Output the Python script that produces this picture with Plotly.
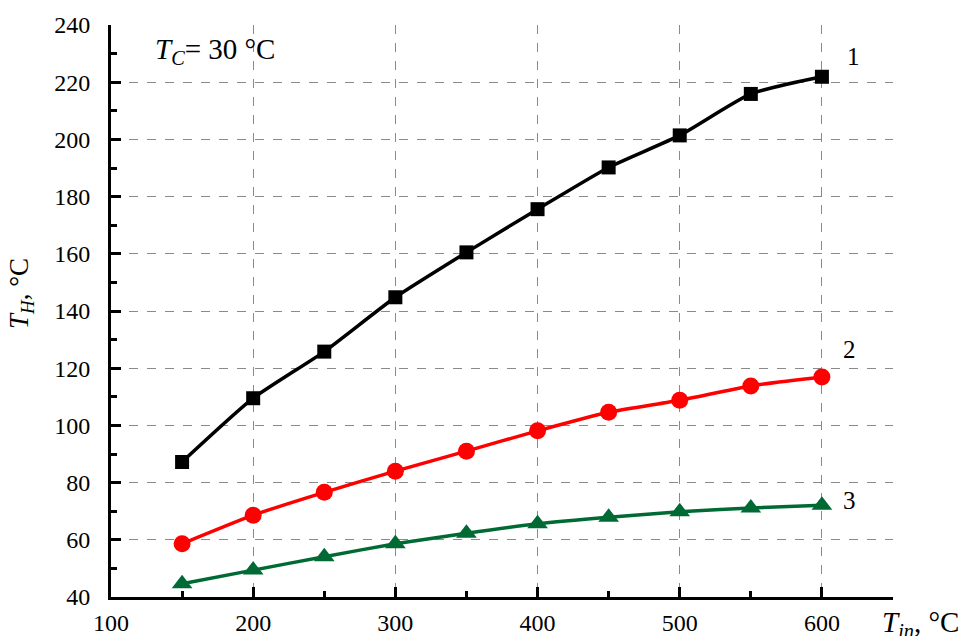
import plotly.graph_objects as go

t_in = [150, 200, 250, 300, 350, 400, 450, 500, 550, 600]
th_1 = [87.2, 109.5, 125.8, 144.8, 160.5, 175.6, 190.2, 201.4, 215.9, 221.9]
th_2 = [58.6, 68.6, 76.6, 84.0, 91.0, 98.1, 104.6, 108.8, 113.8, 116.9]
th_3 = [44.6, 49.4, 54.1, 58.6, 62.3, 65.6, 67.9, 69.8, 71.1, 72.1]

x_ticks = [100, 200, 300, 400, 500, 600]
y_ticks = [40, 60, 80, 100, 120, 140, 160, 180, 200, 220, 240]

FONT = "Liberation Serif, Times New Roman, serif"
GREEN = "#006a35"

fig = go.Figure()
series = [
    (th_1, "black", "square", 14, "1"),
    (th_2, "#ff0000", "circle", 17, "2"),
    (th_3, GREEN, "triangle-up", 18, "3"),
]
for ys, col, sym, sz, name in series:
    fig.add_trace(go.Scatter(
        x=t_in, y=ys, mode="lines+markers", name=name,
        line=dict(color=col, width=3.5, shape="spline", smoothing=0.55),
        marker=dict(color=col, symbol=sym, size=sz),
        showlegend=False, cliponaxis=False,
    ))

axis_common = dict(
    showline=True, linecolor="black", linewidth=3,
    ticks="inside", ticklen=10, tickwidth=3, tickcolor="black",
    showgrid=True, gridcolor="#8a8a8a", griddash="dash", gridwidth=1,
    zeroline=False, tickfont=dict(family=FONT, size=24, color="black"),
    mirror=False, automargin=False,
)
fig.update_xaxes(
    range=[100, 650], tickvals=x_ticks, ticktext=[str(v) for v in x_ticks],
    minor=dict(dtick=50, tick0=100, ticks="inside", ticklen=6, tickwidth=3,
               tickcolor="black", showgrid=False),
    ticklabelstandoff=2,
    **axis_common,
)
fig.update_yaxes(
    range=[40, 240], tickvals=y_ticks, ticktext=[str(v) for v in y_ticks],
    minor=dict(dtick=10, tick0=40, ticks="inside", ticklen=6, tickwidth=3,
               tickcolor="black", showgrid=False),
    ticklabelstandoff=13,
    **axis_common,
)

ann_font = dict(family=FONT, size=25, color="black")
annotations = [
    dict(x=600, y=th_1[-1], xref="x", yref="y", text="1", showarrow=False,
         xshift=32, yshift=20, font=ann_font),
    dict(x=600, y=th_2[-1], xref="x", yref="y", text="2", showarrow=False,
         xshift=28, yshift=28, font=ann_font),
    dict(x=600, y=th_3[-1], xref="x", yref="y", text="3", showarrow=False,
         xshift=28, yshift=5, font=ann_font),
    dict(x=0.054, y=0.955, xref="paper", yref="paper", xanchor="left",
         yanchor="middle", showarrow=False,
         text="<i>T</i><sub><i>C</i></sub>= 30 °C",
         font=dict(family=FONT, size=29, color="black")),
    dict(x=0.983, y=-0.012, xref="paper", yref="paper", xanchor="left",
         yanchor="top", showarrow=False,
         text="<i>T</i><sub><i>in</i></sub>, °C",
         font=dict(family=FONT, size=29, color="black")),
    dict(x=-0.115, y=0.53, xref="paper", yref="paper", xanchor="center",
         yanchor="middle", showarrow=False, textangle=-90,
         text="<i>T</i><sub><i>H</i></sub>, °C",
         font=dict(family=FONT, size=27, color="black")),
]
fig.update_layout(
    width=960, height=636,
    margin=dict(l=111, r=67, t=25, b=39, autoexpand=False),
    paper_bgcolor="white", plot_bgcolor="white",
    annotations=annotations,
    font=dict(family=FONT),
)
fig.write_html("out.html")
